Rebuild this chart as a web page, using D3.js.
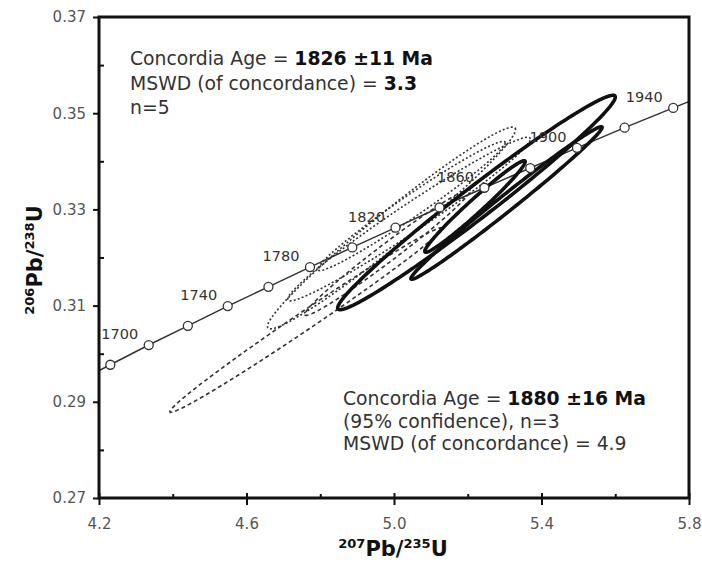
<!DOCTYPE html>
<html>
<head>
<meta charset="utf-8">
<script src="https://cdn.jsdelivr.net/npm/d3@7"></script>
<style>
  body { margin: 0; background: #fff; }
  text { font-family: "DejaVu Sans", sans-serif; }
</style>
</head>
<body>
<div id="chart"></div>
<script>
// concordia curve points (Ma) and their ratios
var ages = [1660, 1680, 1700, 1720, 1740, 1760, 1780, 1800, 1820, 1840, 1860, 1880, 1900, 1920, 1940, 1960];
var pb207u235 = [4.1287, 4.2307, 4.3348, 4.4409, 4.5491, 4.6595, 4.7721, 4.8869, 5.0040, 5.1234, 5.2452, 5.3695, 5.4962, 5.6254, 5.7572, 5.8916];
var pb206u238 = [0.2937, 0.2977, 0.3018, 0.3058, 0.3099, 0.3139, 0.3180, 0.3221, 0.3262, 0.3304, 0.3345, 0.3386, 0.3428, 0.3470, 0.3511, 0.3553];
var labelAges = [1700, 1740, 1780, 1820, 1860, 1900, 1940];

// group 1 (1826 Ma, n=5): 207/235, 2s, 206/238, 2s, rho
var g1X = [4.7614, 4.9932, 5.0407, 5.0475, 4.9824];
var g1XErr = [0.3691, 0.3363, 0.3288, 0.2541, 0.2243];
var g1Y = [0.30700, 0.32613, 0.32800, 0.33071, 0.32104];
var g1YErr = [0.01919, 0.02098, 0.01701, 0.01343, 0.01308];
var g1Rho = [0.993, 0.976, 0.979, 0.979, 0.984];

// group 2 (1880 Ma, n=3)
var g2X = [5.2237, 5.3051, 5.2197];
var g2XErr = [0.3764, 0.2593, 0.1361];
var g2Y = [0.33144, 0.33133, 0.33060];
var g2YErr = [0.02229, 0.01586, 0.00952];
var g2Rho = [0.983, 0.991, 0.979];

var xMajor = [4.2, 4.6, 5.0, 5.4, 5.8];
var xMinor = [4.4, 4.8, 5.2, 5.6];
var yMajor = [0.27, 0.29, 0.31, 0.33, 0.35, 0.37];
var yMinor = [0.28, 0.30, 0.32, 0.34, 0.36];

var svgWidth = 702;
var svgHeight = 562;
var margin = { top: 17, right: 13, bottom: 64, left: 99 };
var width = svgWidth - margin.left - margin.right;
var height = svgHeight - margin.top - margin.bottom;

var svg = d3.select("#chart")
  .append("svg")
  .attr("width", svgWidth)
  .attr("height", svgHeight);

var chartGroup = svg.append("g")
  .attr("transform", `translate(${margin.left}, ${margin.top})`);

var x = d3.scaleLinear().domain([4.2, 5.8]).range([0, width]);
var y = d3.scaleLinear().domain([0.27, 0.37]).range([height, 0]);

svg.append("defs").append("clipPath").attr("id", "plotClip")
  .append("rect").attr("width", width).attr("height", height);

var plot = chartGroup.append("g").attr("clip-path", "url(#plotClip)");

// error ellipse as a closed path
function ellipsePath(cx, sx, cy, sy, rho) {
  var pts = d3.range(0, 2 * Math.PI, Math.PI / 90).map(function(t) {
    return [x(cx + sx * Math.cos(t)),
            y(cy + sy * (rho * Math.cos(t) + Math.sqrt(1 - rho * rho) * Math.sin(t)))];
  });
  return d3.line().curve(d3.curveLinearClosed)(pts);
}

// group 1 - thin dashed / dotted
g1X.forEach(function(d, i) {
  plot.append("path")
    .attr("d", ellipsePath(g1X[i], g1XErr[i], g1Y[i], g1YErr[i], g1Rho[i]))
    .attr("fill", "none")
    .attr("stroke", "#333")
    .attr("stroke-width", 1.6)
    .attr("stroke-dasharray", (i === 0 || i === 4) ? "4,3" : "2,2.2");
});

// concordia
var concordia = ages.map(function(a, i) { return { age: a, x: pb207u235[i], y: pb206u238[i] }; });

plot.append("path")
  .datum(concordia)
  .attr("d", d3.line().x(d => x(d.x)).y(d => y(d.y)))
  .attr("fill", "none")
  .attr("stroke", "#333")
  .attr("stroke-width", 1.5);

// group 2 - thick solid
g2X.forEach(function(d, i) {
  plot.append("path")
    .attr("d", ellipsePath(g2X[i], g2XErr[i], g2Y[i], g2YErr[i], g2Rho[i]))
    .attr("fill", "none")
    .attr("stroke", "#111")
    .attr("stroke-width", 3.6);
});

plot.selectAll(".ageDot")
  .data(concordia.filter(d => d.x >= 4.2 && d.x <= 5.8))
  .enter()
  .append("circle")
  .attr("cx", d => x(d.x))
  .attr("cy", d => y(d.y))
  .attr("r", 4.5)
  .attr("fill", "#fff")
  .attr("stroke", "#333")
  .attr("stroke-width", 1.3);

plot.selectAll(".ageLabel")
  .data(concordia.filter(d => labelAges.indexOf(d.age) >= 0))
  .enter()
  .append("text")
  .attr("x", d => x(d.x) - 29)
  .attr("y", d => y(d.y) - 6)
  .attr("text-anchor", "middle")
  .attr("font-size", "14.5px")
  .attr("fill", "#333")
  .text(d => d.age);

// axes
chartGroup.append("g")
  .call(d3.axisLeft(y).tickValues(yMajor).tickFormat(d3.format(".2f")).tickSize(6).tickPadding(7));
chartGroup.append("g")
  .call(d3.axisLeft(y).tickValues(yMinor).tickFormat("").tickSize(-5));

chartGroup.append("g")
  .attr("transform", `translate(0, ${height})`)
  .call(d3.axisBottom(x).tickValues(xMajor).tickFormat(d3.format(".1f")).tickSize(7).tickPadding(13));
chartGroup.append("g")
  .attr("transform", `translate(0, ${height})`)
  .call(d3.axisBottom(x).tickValues(xMajor).tickFormat("").tickSize(-5));
chartGroup.append("g")
  .attr("transform", `translate(0, ${height})`)
  .call(d3.axisBottom(x).tickValues(xMinor).tickFormat("").tickSize(-4));

chartGroup.selectAll(".domain").remove();
chartGroup.selectAll(".tick line").attr("stroke", "#111").attr("stroke-width", 2);
chartGroup.selectAll(".tick text")
  .attr("font-family", "DejaVu Sans, sans-serif")
  .attr("font-size", "15px")
  .attr("fill", "#555");

chartGroup.append("rect")
  .attr("width", width)
  .attr("height", height)
  .attr("fill", "none")
  .attr("stroke", "#111")
  .attr("stroke-width", 3);

// axis titles
var xTitle = svg.append("text")
  .attr("x", 393)
  .attr("y", 556)
  .attr("text-anchor", "middle")
  .attr("font-weight", "bold")
  .attr("font-size", "21px")
  .attr("fill", "#111");
xTitle.append("tspan").attr("font-size", "13px").attr("dy", -8).text("207");
xTitle.append("tspan").attr("dy", 8).text("Pb/");
xTitle.append("tspan").attr("font-size", "13px").attr("dy", -8).text("235");
xTitle.append("tspan").attr("dy", 8).text("U");

var yTitle = svg.append("text")
  .attr("transform", "translate(42, 260) rotate(-90)")
  .attr("text-anchor", "middle")
  .attr("font-weight", "bold")
  .attr("font-size", "21px")
  .attr("fill", "#111");
yTitle.append("tspan").attr("font-size", "13px").attr("dy", -8).text("206");
yTitle.append("tspan").attr("dy", 8).text("Pb/");
yTitle.append("tspan").attr("font-size", "13px").attr("dy", -8).text("238");
yTitle.append("tspan").attr("dy", 8).text("U");

// annotations
function note(x0, y0, step, lines) {
  lines.forEach(function(parts, i) {
    var t = svg.append("text")
      .attr("x", x0)
      .attr("y", y0 + i * step)
      .attr("font-size", "18.8px")
      .attr("fill", "#333");
    parts.forEach(function(p) {
      var s = t.append("tspan").text(p.text);
      if (p.bold) s.attr("font-weight", "bold").attr("fill", "#111");
    });
  });
}

note(130, 65, 24.5, [
  [{ text: "Concordia Age = " }, { text: "1826 \u00b111 Ma", bold: true }],
  [{ text: "MSWD (of concordance) = " }, { text: "3.3", bold: true }],
  [{ text: "n=5" }]
]);

note(343, 405, 22.5, [
  [{ text: "Concordia Age = " }, { text: "1880 \u00b116 Ma", bold: true }],
  [{ text: "(95% confidence), n=3" }],
  [{ text: "MSWD (of concordance) = 4.9" }]
]);
</script>
</body>
</html>
